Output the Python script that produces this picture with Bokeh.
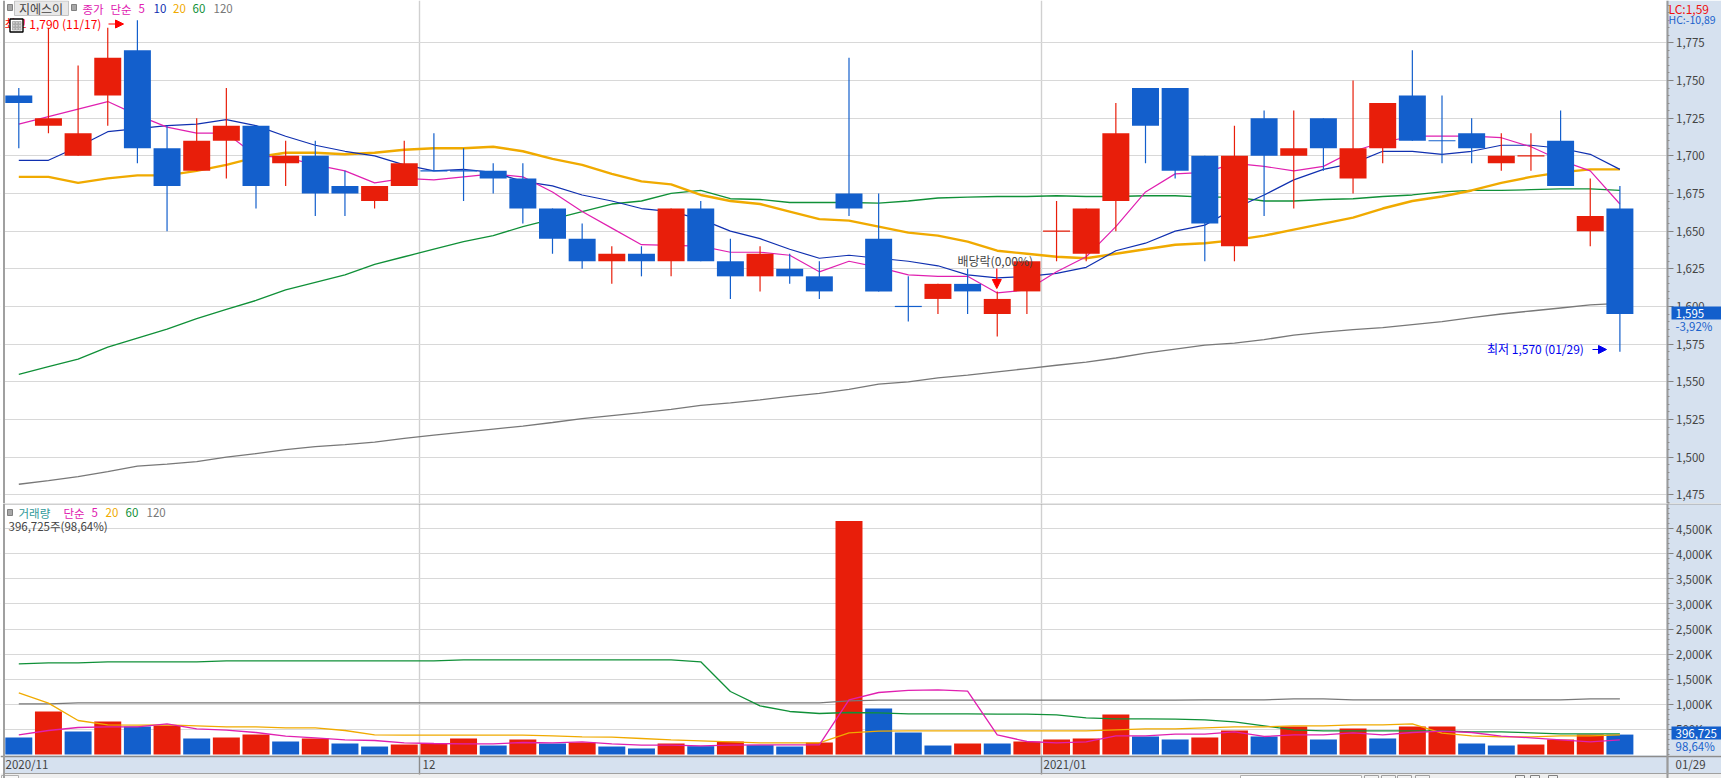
from bokeh.plotting import figure
from bokeh.layouts import column
from bokeh.models import (Range1d, FixedTicker, Grid, Label, BoxAnnotation, Span, Arrow, NormalHead,
                          NumeralTickFormatter, LinearAxis, ColumnDataSource)
from bokeh.embed import file_html
from bokeh.resources import INLINE

# ---- data ----
candle_dir = ["B","R","R","R","B","B","R","R","B","R","B","B","R","R","B","B","B","B","B","B","R","B","R","B","B","R","B","B","B",
              "B","B","R","B","R","R","R","R","R","B","B","B","R","B","R","B","R","R","B","B","B","R","R","B","R","B"]
body_top = [1740,1725,1715,1765,1770,1705,1710,1720,1720,1700,1700,1680,1680,1695,1690,1690,1690,1685,1665,1645,1635,1635,1665,1665,1630,1635,1625,1620,1675,
            1645,1600,1615,1615,1605,1630,1650,1665,1715,1745,1745,1700,1700,1725,1705,1725,1705,1735,1740,1710,1715,1700,1700,1710,1660,1665]
body_bottom = [1735,1720,1700,1740,1705,1680,1690,1710,1680,1695,1675,1675,1670,1680,1690,1690,1685,1665,1645,1630,1630,1630,1630,1630,1620,1620,1620,1610,1665,
               1610,1600,1605,1610,1595,1610,1650,1635,1670,1720,1690,1655,1640,1700,1700,1705,1685,1705,1710,1710,1705,1695,1700,1680,1650,1595]
high = [1745,1785,1760,1785,1790,1720,1725,1745,1720,1710,1710,1690,1680,1710,1715,1705,1695,1695,1665,1655,1640,1640,1665,1670,1645,1640,1635,1630,1765,
        1675,1620,1615,1625,1610,1630,1670,1665,1735,1745,1745,1700,1720,1730,1730,1725,1750,1735,1770,1740,1725,1715,1715,1730,1685,1680]
low = [1705,1715,1700,1720,1695,1650,1690,1685,1665,1680,1660,1660,1665,1680,1690,1670,1675,1655,1635,1625,1615,1620,1620,1630,1605,1610,1615,1605,1660,
       1610,1590,1595,1595,1580,1595,1630,1630,1650,1695,1685,1630,1630,1660,1665,1690,1675,1695,1710,1695,1695,1690,1690,1680,1640,1570]
ma5 = [1721,1726,1731,1736,1727,1719,1715,1715,1700,1699,1694,1690,1682,1685,1684,1686,1688,1686,1676,1663,1652,1641,1640.5,1640,1636,1636,1634,1623,1630,
       1626,1621,1620,1620,1609,1611,1623,1633,1653,1676,1688,1689,1695,1693,1690,1693,1703,1709,1713,1713,1713,1712,1706,1697,1690,1668]
ma10 = [1697,1697,1706,1716,1718,1720,1721,1724,1720,1713,1707,1703,1700,1694,1690,1691,1689,1683,1680,1674,1670,1665,1663,1658,1650,1645,1638,1632,1634,
        1632,1630,1627,1621,1619,1620,1622,1626,1637,1642,1650,1654,1665,1674,1684,1691,1695,1703,1703,1701,1703,1707,1707,1705,1701,1691]
ma20 = [1686,1686,1682,1685,1687,1687,1690,1694,1699,1702,1702,1701,1702,1704,1705,1705,1706,1703,1698,1694,1688,1683,1681,1674,1670,1668,1663,1658,1657,
        1653,1649,1647,1643,1637,1635,1633,1632,1635,1638,1641,1642,1644,1647,1651,1655,1659,1665,1670,1673,1677,1682,1686,1689,1691,1691]
ma60 = [1555,1560,1565,1573,1579,1585,1592,1598,1604,1611,1616,1621,1628,1633,1638,1643,1647,1653,1658,1663,1668,1670,1675,1677,1671.5,1671,1669,1669,1669,
        1668.6,1670,1672,1672.6,1673,1673,1673.5,1673,1673,1673.5,1673.5,1672.6,1672.6,1670,1670,1671,1671.5,1673,1674,1676,1677,1677,1677.5,1678,1678,1677]
ma120 = [1482,1484.4,1487,1490.4,1494,1495.4,1497,1500,1502.4,1505,1507,1508.3,1510,1512.5,1514.6,1516.6,1518.6,1520.6,1523,1525.6,1527.6,1529.6,1531.7,1534.3,1536,1538,1540.3,1542.3,1545,
         1548.5,1550,1552.6,1554.4,1556.6,1558.8,1561,1563,1565.8,1569,1571.7,1574.3,1575.7,1578,1581,1583,1584.6,1586,1588,1590,1592.6,1595,1597,1599,1601,1602]

volume_k = [339,857,458,657,558,578,319,339,398,259,319,219,159,199,219,319,179,299,219,239,159,120,219,166,259,186,159,239,4650,
            916,438,179,219,219,259,299,319,797,359,299,339,478,359,558,299,518,319,558,558,219,179,199,299,398,396.725]
volume_dir = ["B","R","B","R","B","R","B","R","R","B","R","B","B","R","R","R","B","R","B","R","B","B","R","B","R","B","B","R","R",
              "B","B","B","R","B","R","R","R","R","B","B","R","R","B","R","B","R","B","R","R","B","B","R","R","R","B"]
vma5 = [392,478,538,551,551,611,511,485,438,365,332,292,279,232,219,212,212,239,232,252,212,186,186,173,186,193,193,193,1089,
        1235,1278,1288,1262,392,259,232,252,372,372,405,405,451,359,392,392,432,392,438,465,438,365,332,292,252,292]
vma20 = [1228,1023,677,591,584,591,571,551,551,531,531,478,392,385,385,385,385,385,372,352,345,319,292,272,252,232,232,232,432,
         465,471,471,471,471,471,471,471,491,511,511,531,551,551,571,571,591,591,611,425,372,352,352,372,372,392]
vma60 = [1806,1826,1826,1846,1846,1846,1846,1866,1866,1866,1866,1866,1866,1866,1866,1886,1886,1886,1886,1886,1886,1886,1886,1846,1255,969,857,817,837,
         830,810,810,810,803,803,790,730,710,710,704,691,651,571,491,471,471,471,471,471,451,451,432,412,412,412]
vma120 = [1009,1009,1029,1029,1029,1029,1029,1029,1029,1029,1029,1029,1029,1029,1029,1029,1029,1029,1029,1029,1029,1029,1029,1029,1029,1029,1029,1029,1069,
          1082,1082,1082,1082,1082,1082,1082,1082,1082,1082,1082,1089,1089,1089,1109,1109,1089,1089,1089,1089,1089,1089,1089,1089,1109,1109]

price_ticks = [1475,1500,1525,1550,1575,1600,1625,1650,1675,1700,1725,1750,1775]
volume_ticks = [500,1000,1500,2000,2500,3000,3500,4000,4500]
month_breaks = [13.5, 34.5]

# ---- look ----
RED, BLUE = "#E81E0A", "#135FCC"
MAG, NAVY, ORG, GRN, GRY = "#E020B0", "#1030B0", "#F0AA00", "#109038", "#787878"
PANEL = "#D6E1EF"
GRID = "#D8D8D8"
FONT = "Noto Sans CJK KR"
TXT = "#444444"

X0, DX = 18.3, 29.65
W = 1721
def fx(px): return (px - X0) / DX
def py1(py): return 1775 - (py - 42.3) / 1.5067
def py2(py): return (754 - py) / 50.2 * 1000

xr = Range1d(fx(0), fx(W))
xs = list(range(len(body_top)))
col = lambda d: RED if d == "R" else BLUE


def base(h, yr, ticker, minor):
    p = figure(width=W, height=h, frame_width=W, frame_height=h, x_range=xr, y_range=yr,
               output_backend="svg", toolbar_location=None, x_axis_type=None, y_axis_type=None,
               min_border=0, background_fill_color="white", border_fill_color="white", outline_line_color=None)
    p.add_layout(Grid(dimension=0, ticker=FixedTicker(ticks=month_breaks), grid_line_color="#D0D0D0", grid_line_width=1.4))
    p.add_layout(Grid(dimension=1, ticker=FixedTicker(ticks=ticker), grid_line_color=GRID, grid_line_width=1))
    return p


def yaxis(p, ticks, minor, **kw):
    a = LinearAxis(fixed_location=fx(1666.5), ticker=FixedTicker(ticks=ticks, minor_ticks=minor),
                   axis_line_color="#9A9A9A", axis_line_width=2, major_tick_line_color="#808080",
                   minor_tick_line_color="#909090", major_tick_in=0, major_tick_out=6, minor_tick_in=0, minor_tick_out=2,
                   major_label_standoff=3, major_label_text_font=FONT, major_label_text_font_size="11.5px",
                   major_label_text_color=TXT, **kw)
    p.add_layout(a, "right")


def box(p, conv, l, r, t, b, fill, line=None, level="annotation", lw=1):
    p.add_layout(BoxAnnotation(left=fx(l), right=fx(r), top=conv(t), bottom=conv(b), fill_color=fill, fill_alpha=1,
                               line_color=line, line_alpha=1 if line else 0, line_width=lw, level=level,
                               editable=False))


def txt(p, conv, x, y, s, color, size="11.5px", align="left"):
    p.add_layout(Label(x=fx(x), y=conv(y), text=s, text_color=color, text_font=FONT, text_font_size=size,
                       text_baseline="middle", text_align=align))


# ---- price pane ----
p1 = base(503, Range1d(py1(503), py1(0)), price_ticks, None)
box(p1, py1, 1666, W, 0, 503, PANEL, level="underlay")
box(p1, py1, 0, 3, 0, 503, "white", level="underlay")
yaxis(p1, price_ticks, list(range(1470, 1805, 5)), formatter=NumeralTickFormatter(format="0,0"))

p1.line(xs, ma120, line_color=GRY, line_width=1.3)
p1.line(xs, ma60, line_color=GRN, line_width=1.3)
p1.line(xs, ma20, line_color=ORG, line_width=2.4)
p1.line(xs, ma10, line_color=NAVY, line_width=1.2)
p1.line(xs, ma5, line_color=MAG, line_width=1.2)

colors = [col(d) for d in candle_dir]
src = ColumnDataSource(dict(x=xs, top=body_top, bottom=body_bottom, high=high, low=low, color=colors))
p1.segment("x", "high", "x", "low", source=src, line_color="color", line_width=1.2)
p1.vbar("x", width=0.91, top="top", bottom="bottom", source=src, fill_color="color", line_color=None)
flat = [i for i in xs if body_top[i] == body_bottom[i]]
p1.segment([i - 0.455 for i in flat], [body_top[i] for i in flat], [i + 0.455 for i in flat], [body_top[i] for i in flat],
           line_color=[colors[i] for i in flat], line_width=1.2)

# pane labels
box(p1, py1, 7, 12, 4, 10, "#A8A8A8", "#808080")
box(p1, py1, 14, 68, 0.5, 15, "#E8E8E8", "#C4C4C4")
txt(p1, py1, 18.5, 8, "지에스이", TXT, "12px")
box(p1, py1, 71, 76, 4, 10, "#A8A8A8", "#808080")
for x, s, c in [(82, "종가", MAG), (110, "단순", MAG), (138, "5", MAG), (153, "10", NAVY), (172.5, "20", ORG), (192, "60", GRN), (213, "120", GRY)]:
    txt(p1, py1, x, 8, s, c)

RMAX, BMIN = "#FF0000", "#0000EE"
txt(p1, py1, 4, 22.5, "최고 1,790 (11/17)", RMAX, "12px")
p1.add_layout(Arrow(x_start=fx(108), y_start=py1(23.5), x_end=fx(123), y_end=py1(23.5), line_color=RMAX, line_width=1.2,
                    end=NormalHead(size=8, fill_color=RMAX, line_color=RMAX)))
box(p1, py1, 9.5, 22.5, 18.5, 31.5, "white", "#000000", lw=1.4)
for yy in (21, 24, 27):
    for xx in (12, 15, 18):
        box(p1, py1, xx, xx + 2.6, yy, yy + 2.6, "#D0D0D0", "#909090", lw=0.6)

txt(p1, py1, 957, 260, "배당락(0,00%)", TXT, "12px")
p1.add_layout(Arrow(x_start=fx(996.3), y_start=py1(268), x_end=fx(996.3), y_end=py1(288), line_color=RMAX, line_width=1.2,
                    end=NormalHead(size=9, fill_color=RMAX, line_color=RMAX)))

txt(p1, py1, 1486.5, 348, "최저 1,570 (01/29)", BMIN, "12px")
p1.add_layout(Arrow(x_start=fx(1592), y_start=py1(349), x_end=fx(1606), y_end=py1(349), line_color=BMIN, line_width=1.2,
                    end=NormalHead(size=8, fill_color=BMIN, line_color=BMIN)))

txt(p1, py1, 1668, 8, "LC:1,59", "#F01010", "12px")
txt(p1, py1, 1668, 19, "HC:-10,89", "#1A62CC", "10.5px")
box(p1, py1, 1671, W, 306, 319, BLUE)
txt(p1, py1, 1675, 312.5, "1,595", "white")
txt(p1, py1, 1675, 325, "-3,92%", "#1A62CC")
p1.add_layout(Span(location=fx(3.5), dimension="height", line_color="#A0A0A0", line_width=2))

# ---- volume pane ----
p2 = base(275, Range1d(py2(778), py2(503)), volume_ticks, None)
box(p2, py2, 1666, W, 503, 755, PANEL, level="underlay")
box(p2, py2, 0, 3, 503, 778, "white", level="underlay")
box(p2, py2, 3, W, 755, 773, PANEL, level="underlay")
box(p2, py2, 0, W, 773, 778, "#EFEFEF", level="underlay")
yaxis(p2, volume_ticks, [m for m in range(0, 5100, 100)], major_label_overrides={t: f"{t:,}K" for t in volume_ticks})

vsrc = ColumnDataSource(dict(x=xs, top=volume_k, color=[col(d) for d in volume_dir]))
p2.vbar("x", width=0.91, top="top", bottom=0, source=vsrc, fill_color="color", line_color=None)
p2.line(xs, vma120, line_color=GRY, line_width=1.3)
p2.line(xs, vma60, line_color=GRN, line_width=1.3)
p2.line(xs, vma20, line_color=ORG, line_width=1.3)
p2.line(xs, vma5, line_color=MAG, line_width=1.3)

date_ticks = month_breaks + [fx(1666.5)]
dax = LinearAxis(fixed_location=py2(755.5), ticker=FixedTicker(ticks=date_ticks),
                 major_label_overrides={t: "" for t in date_ticks}, major_label_standoff=0,
                 axis_line_color="#8C8C8C", axis_line_width=1.5, major_tick_in=0, major_tick_out=18,
                 major_tick_line_color="#8C8C8C", major_tick_line_width=1.4, minor_tick_line_color=None)
p2.add_layout(dax, "below")

box(p2, py2, 7, 12, 509, 515, "#A8A8A8", "#808080")
for x, s, c in [(18, "거래량", "#2F9A9A"), (63, "단순", MAG), (91, "5", MAG), (105, "20", ORG), (125, "60", GRN), (146, "120", GRY)]:
    txt(p2, py2, x, 512, s, c)
txt(p2, py2, 8, 525, "396,725주(98,64%)", TXT)

for x, s in [(5, "2020/11"), (422, "12"), (1043, "2021/01"), (1675, "01/29")]:
    txt(p2, py2, x, 763.5, s, TXT)

box(p2, py2, 1671, W, 726, 739, BLUE)
txt(p2, py2, 1675, 732.5, "396,725", "white")
txt(p2, py2, 1675, 745, "98,64%", "#1A62CC")
box(p2, py2, 3, W, 503, 504, "#A0A0A0")
box(p2, py2, 3, W, 772.6, 773.6, "#A0A0A0")
# window controls below the date strip
box(p2, py2, 1, 18, 775, 779, "#F8F8F8", "#B0B0B0")
box(p2, py2, 1240, 1361, 775, 779, "white", "#B0B0B0")
for l in (1364, 1381, 1397, 1415):
    box(p2, py2, l, l + 14, 775, 779, "#F4F4F4", "#A0A0A0")
for l in (1515, 1530, 1548):
    box(p2, py2, l, l + 9, 775, 779, "#F4F4F4", "#808080")
p2.add_layout(Span(location=fx(3.5), dimension="height", line_color="#A0A0A0", line_width=2))

page = column(p1, p2, spacing=0)
open("out.html", "w").write(file_html(page, INLINE))
